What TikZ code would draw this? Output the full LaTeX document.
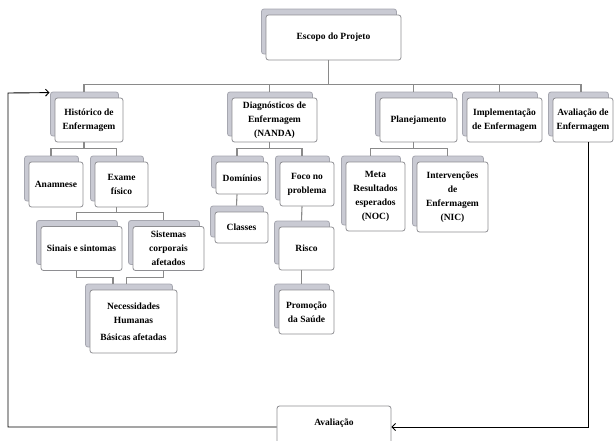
\documentclass[tikz,border=0pt]{standalone}
\usepackage{fontspec}
\setmainfont{Liberation Serif}
\usetikzlibrary{shadows,arrows.meta,calc}
\definecolor{boxborder}{HTML}{8E8E92}
\definecolor{shadowfill}{HTML}{C9CAD3}
\definecolor{shadowborder}{HTML}{A6A7B0}
\definecolor{connc}{HTML}{8A8A8A}
\newcommand\boxfnt{\fontsize{9.5}{14}\selectfont\bfseries}
\begin{document}
\begin{tikzpicture}[x=1pt,y=-1pt,
  box/.style={draw=boxborder, fill=white, rounded corners=2.5pt, line width=0.8pt,
    align=center, inner sep=1pt, font=\boxfnt,
    copy shadow={shadow xshift=-4.5pt, shadow yshift=6pt, fill=shadowfill, draw=shadowborder}},
  plainbox/.style={draw=boxborder, fill=white, rounded corners=2.5pt, line width=0.8pt,
    align=center, font=\boxfnt},
  conn/.style={draw=connc, line width=1.1pt},
  loopline/.style={draw=black, line width=0.9pt},
  tip/.style={-{Straight Barb[length=3.5pt,width=7pt]}}]
\useasboundingbox (0,0) rectangle (616,440);
\fill[white] (0,0) rectangle (616,440);

% level 0
\node[box, minimum width=135pt, minimum height=45pt] (escopo) at (333.5,37.5) {Escopo do Projeto};

% level 1
\node[box, minimum width=68pt, minimum height=44pt] (hist) at (89,120) {Histórico de\\Enfermagem};
\node[box, minimum width=85pt, minimum height=44pt] (diag) at (274.5,120) {Diagnósticos de\\Enfermagem\\(NANDA)};
\node[box, minimum width=77pt, minimum height=44pt] (plan) at (418.5,120) {Planejamento};
\node[box, minimum width=75pt, minimum height=44pt] (impl) at (504.5,120) {Implementação\\de Enfermagem};
\node[box, minimum width=60pt, minimum height=44pt] (aval) at (583,120) {Avaliação de\\Enfermagem};

% Histórico subtree
\node[box, minimum width=54pt, minimum height=45pt] (anam) at (56,184.5) {Anamnese};
\node[box, minimum width=53pt, minimum height=45pt] (exame) at (121.5,184.5) {Exame\\físico};
\node[box, minimum width=81pt, minimum height=44pt] (sinais) at (81.5,248.5) {Sinais e sintomas};
\node[box, minimum width=71pt, minimum height=44pt] (sist) at (168.5,248.5) {Sistemas\\corporais\\afetados};
\node[box, minimum width=87pt, minimum height=63pt] (nec) at (133.5,321.5) {Necessidades\\Humanas\\[3pt]Básicas afetadas};

% Diagnósticos subtree
\node[box, minimum width=52pt, minimum height=32pt] (dom) at (242,178) {Domínios};
\node[box, minimum width=53pt, minimum height=31pt] (classes) at (241.5,227.5) {Classes};
\node[box, minimum width=54pt, minimum height=44pt] (foco) at (307,184) {Foco no\\problema};
\node[box, minimum width=55pt, minimum height=43pt] (risco) at (306.5,248.5) {Risco};
\node[box, minimum width=55pt, minimum height=44pt] (promo) at (306.5,312) {Promoção\\da Saúde};

% Planejamento subtree
\node[box, minimum width=59pt, minimum height=69pt] (meta) at (375.5,196.5) {Meta\\Resultados\\esperados\\(NOC)};
\node[box, minimum width=71pt, minimum height=70pt] (interv) at (452.5,197) {Intervenções\\de\\Enfermagem\\(NIC)};

% Avaliação (bottom)
\node[plainbox, minimum width=114pt, text height=7pt, text depth=11pt, inner ysep=12pt] (avl) at (334,427) {Avaliação};

% connectors, level 0 -> 1
\draw[conn] ([xshift=-5pt]escopo.south) -- ++(0,25);
\draw[conn] ([shift={(-5,-6)}]hist.north) -- ++(0,-7) -| ([shift={(-2,-6)}]aval.north);
\draw[conn] ([shift={(-5,-6)}]diag.north) -- ++(0,-7);
\draw[conn] ([shift={(-5,-6)}]plan.north) -- ++(0,-7);
\draw[conn] ([shift={(-5,-6)}]impl.north) -- ++(0,-7);

% Histórico subtree
\draw[conn] ([xshift=-5pt]hist.south) -- ++(0,7);
\draw[conn] ([shift={(-5,-6)}]anam.north) -- ++(0,-7) -| ([shift={(-5,-6)}]exame.north);
\draw[conn] ([xshift=-5pt]exame.south) -- ++(0,5);
\draw[conn] ([shift={(-5,-6)}]sinais.north) -- ++(0,-8) -| ([shift={(-5,-6)}]sist.north);
\draw[conn] ([xshift=-5pt]sinais.south) -- ++(0,7) -| ([shift={(-20.5,-6)}]nec.north);
\draw[conn] ([xshift=-5pt]sist.south) -- ++(0,7) -| ([shift={(-7,-6)}]nec.north);

% Diagnósticos subtree
\draw[conn] ([xshift=-5pt]diag.south) -- ++(0,7);
\draw[conn] ([shift={(-5,-6)}]dom.north) -- ++(0,-7) -| ([shift={(-5,-6)}]foco.north);
\draw[conn] ([xshift=-5pt]dom.south) -- ([shift={(-5,-6)}]classes.north);
\draw[conn] ([xshift=-5pt]foco.south) -- ([shift={(-5,-6)}]risco.north);
\draw[conn] ([xshift=-5pt]risco.south) -- ([shift={(-5,-6)}]promo.north);

% Planejamento subtree
\draw[conn] ([xshift=-5pt]plan.south) -- ++(0,7);
\draw[conn] ([shift={(-5,-6)}]meta.north) -- ++(0,-7) -| ([shift={(-5,-6)}]interv.north);

% feedback loop
\coordinate (lc) at (8,93);
\draw[loopline, tip] ([xshift=5pt]aval.south) |- (avl.east);
\draw[loopline, tip] (avl.west) -| (lc) -- ([shift={(-5,-5)}]hist.north west);
\end{tikzpicture}
\end{document}
